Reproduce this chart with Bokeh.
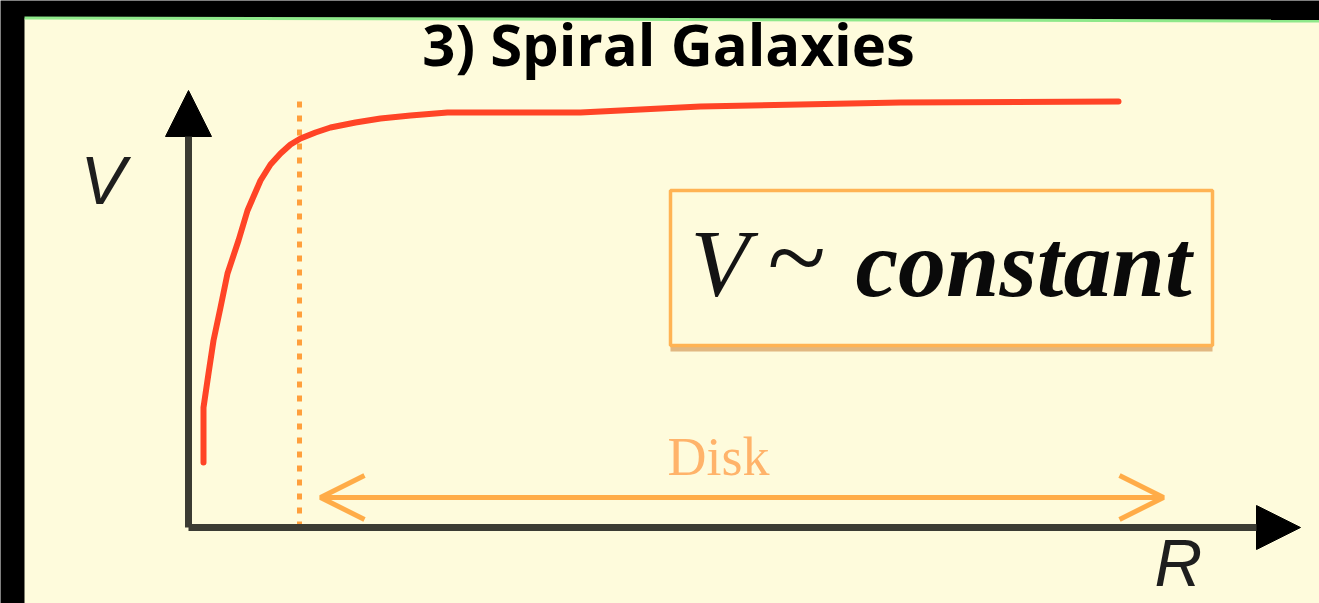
from bokeh.plotting import figure
from bokeh.models import Range1d, Arrow, NormalHead, OpenHead, Label
from bokeh.embed import file_html
from bokeh.resources import INLINE

# Rotation curve of a spiral galaxy (arbitrary units, origin at the axes corner)
R_curve = [15, 15, 20, 25, 32, 39, 50, 59, 72, 82, 92, 102, 112, 127, 142, 167, 192, 222,
           259, 392, 512, 712, 930]
V_curve = [65, 120, 154, 187, 220, 254, 287, 317, 347, 363, 374, 383, 389, 395, 400, 405, 409, 412,
           415, 415, 421, 425, 426]

# Disk extent
disk_inner_R = 111
disk_arrow_start_R = 132
disk_arrow_end_R = 975
disk_arrow_V = 30

# Axis extents
R_axis_max = 1112
V_axis_max = 437

CREAM = "#fefbdc"


def baseline_label(x, y, text, size, **kw):
    # Labels are placed by their baseline; lift by the descent-related offset of the renderer
    return Label(x=x, y=y + 0.35 * size, text=text, text_font_size=f"{size}px",
                 text_baseline="alphabetic", **kw)


p = figure(width=1319, height=603,
           x_range=Range1d(-188, 1131), y_range=Range1d(-76, 527),
           min_border=0, toolbar_location=None, output_backend="svg")
p.axis.visible = False
p.grid.visible = False
p.outline_line_color = None
p.background_fill_color = "black"
p.border_fill_color = "black"

# slide panel
p.patch([-164, 1131, 1131, -164], [509, 506, -76, -76], fill_color=CREAM, line_color=None)
p.line([-164, 1131], [509.5, 506.5], line_color="#8ee88a", line_width=3)

# title
p.add_layout(baseline_label(668 - 188, 464, "3) Spiral Galaxies", 58, text_align="center",
                            text_font="Open Sans", text_font_style="bold", text_color="black"))

# axes with arrow heads
p.add_layout(Arrow(x_start=0, y_start=0, x_end=0, y_end=V_axis_max,
                   line_color="#3b3b33", line_width=7,
                   end=NormalHead(size=46, fill_color="black", line_color="black", line_width=1)))
p.add_layout(Arrow(x_start=0, y_start=0, x_end=R_axis_max, y_end=0,
                   line_color="#3b3b33", line_width=7,
                   end=NormalHead(size=44, fill_color="black", line_color="black", line_width=1)))
p.add_layout(baseline_label(-108, 324, "V", 68, text_font="Liberation Sans",
                            text_font_style="italic", text_color="#1e1e1e"))
p.add_layout(baseline_label(966, -59, "R", 66, text_font="Liberation Sans",
                            text_font_style="italic", text_color="#1e1e1e"))

# dotted marker of the inner disk edge
p.line([disk_inner_R, disk_inner_R], [0, V_axis_max - 5], line_color="#ff9f3c",
       line_width=5, line_dash="6 8")

# rotation curve
p.line(R_curve, V_curve, line_color="#ff4426", line_width=6, line_join="round", line_cap="round")

# disk double arrow
p.add_layout(Arrow(x_start=disk_arrow_start_R, y_start=disk_arrow_V,
                   x_end=disk_arrow_end_R, y_end=disk_arrow_V,
                   line_color="#ffac48", line_width=5,
                   start=OpenHead(size=44, line_color="#ffac48", line_width=5),
                   end=OpenHead(size=44, line_color="#ffac48", line_width=5)))
p.add_layout(baseline_label(479, 52, "Disk", 54, text_font="Liberation Serif",
                            text_color="#ffb36a"))

# boxed statement
p.quad(left=482, right=1024, bottom=176, top=331, fill_color="#d49a5a", fill_alpha=0.7, line_color=None)
p.quad(left=482, right=1024, bottom=182, top=337, fill_color=CREAM,
       line_color="#ffb354", line_width=3.5)
p.add_layout(baseline_label(502, 230, "V", 96, text_font="Liberation Serif",
                            text_font_style="italic", text_color="#141414"))
p.add_layout(baseline_label(579, 232, "~", 108, text_font="Liberation Serif",
                            text_color="#141414"))
p.add_layout(baseline_label(667, 230, "constant", 96, text_font="Liberation Serif",
                            text_font_style="bold italic", text_color="#0a0a0a"))

open("out.html", "w").write(file_html(p, INLINE))
